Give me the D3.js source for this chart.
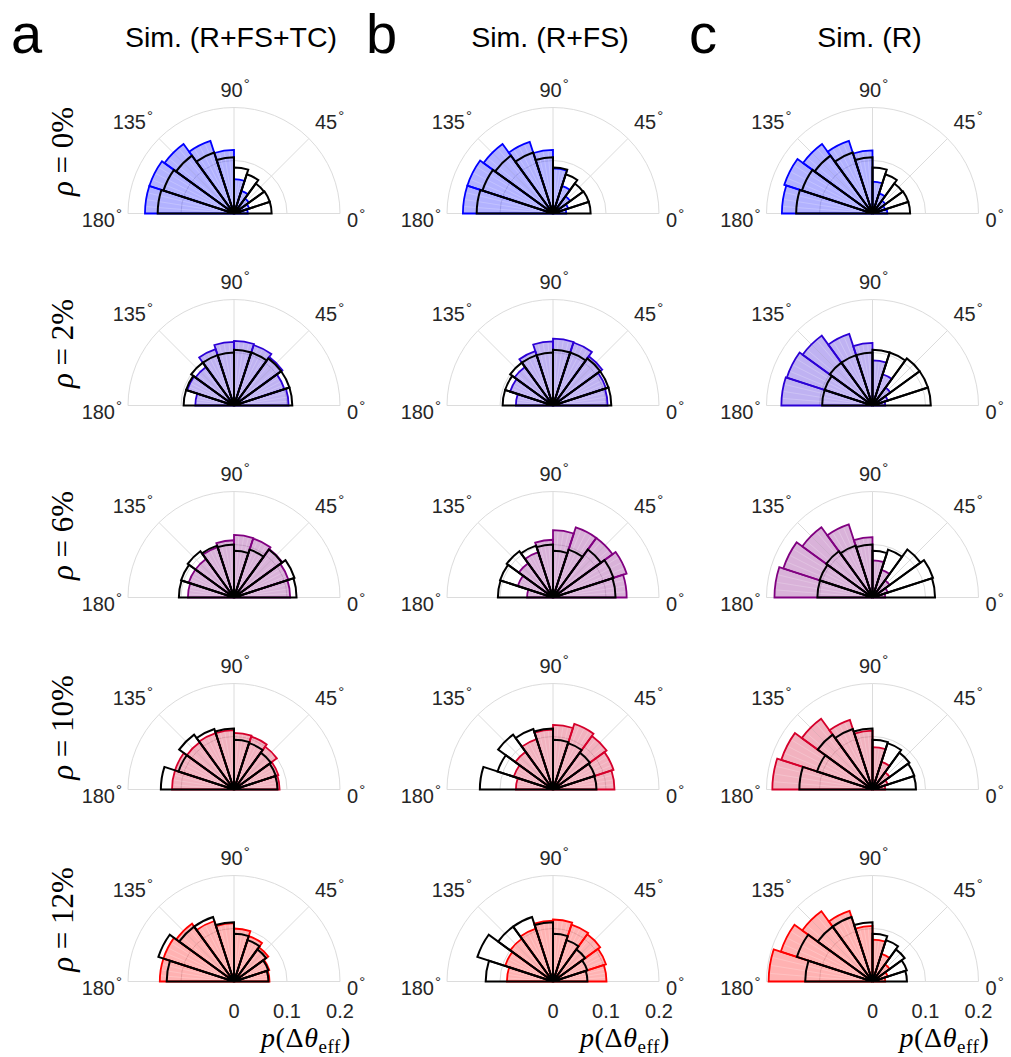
<!DOCTYPE html>
<html>
<head>
<meta charset="utf-8">
<script src="https://cdn.jsdelivr.net/npm/d3@7"></script>
<style>
  body { margin: 0; background: #ffffff; }
  svg { display: block; }
</style>
</head>
<body>
<svg id="chart" width="1011" height="1057"></svg>
<script>
// ---------------- data ----------------
const columnTitles = ["Sim. (R+FS+TC)", "Sim. (R+FS)", "Sim. (R)"];
const panelLetters = ["a", "b", "c"];
const rhoValues = [0, 2, 6, 10, 12];
const rhoLabels = ["0%", "2%", "6%", "10%", "12%"];
const binEdges = [0, 18, 36, 54, 72, 90, 108, 126, 144, 162, 180];
const angleTicks = [0, 45, 90, 135, 180];
const radialTicks = [0, 0.1, 0.2];
const radialTickLabels = ["0", "0.1", "0.2"];

// observed distribution (black outline), one per rho row, bins 0..180 in 18 deg steps
const observed = [
  [0.071, 0.071, 0.070, 0.078, 0.087, 0.106, 0.121, 0.135, 0.140, 0.144],
  [0.110, 0.110, 0.110, 0.105, 0.105, 0.100, 0.100, 0.100, 0.095, 0.095],
  [0.118, 0.120, 0.112, 0.095, 0.088, 0.100, 0.103, 0.108, 0.105, 0.104],
  [0.082, 0.083, 0.086, 0.092, 0.094, 0.115, 0.120, 0.128, 0.110, 0.138],
  [0.065, 0.068, 0.075, 0.082, 0.090, 0.112, 0.128, 0.128, 0.150, 0.127]
];
// simulation R+FS+TC
const simRFSTC = [
  [0.026, 0.030, 0.035, 0.045, 0.065, 0.120, 0.144, 0.162, 0.168, 0.168],
  [0.103, 0.100, 0.113, 0.120, 0.122, 0.120, 0.112, 0.090, 0.093, 0.073],
  [0.106, 0.108, 0.113, 0.117, 0.118, 0.108, 0.100, 0.090, 0.090, 0.087],
  [0.086, 0.088, 0.100, 0.105, 0.107, 0.112, 0.112, 0.110, 0.117, 0.117],
  [0.067, 0.070, 0.080, 0.090, 0.100, 0.110, 0.120, 0.135, 0.140, 0.140]
];
// simulation R+FS
const simRFS = [
  [0.025, 0.030, 0.040, 0.055, 0.085, 0.120, 0.142, 0.162, 0.170, 0.170],
  [0.103, 0.105, 0.115, 0.125, 0.126, 0.121, 0.108, 0.090, 0.085, 0.070],
  [0.139, 0.146, 0.139, 0.139, 0.127, 0.109, 0.090, 0.080, 0.070, 0.049],
  [0.116, 0.120, 0.125, 0.130, 0.122, 0.113, 0.100, 0.088, 0.078, 0.070],
  [0.101, 0.105, 0.110, 0.113, 0.117, 0.115, 0.105, 0.100, 0.095, 0.087]
];
// simulation R
const simR = [
  [0.028, 0.025, 0.030, 0.040, 0.060, 0.119, 0.144, 0.162, 0.175, 0.171],
  [0.024, 0.030, 0.042, 0.062, 0.085, 0.118, 0.142, 0.163, 0.170, 0.172],
  [0.024, 0.030, 0.040, 0.055, 0.070, 0.114, 0.145, 0.164, 0.177, 0.185],
  [0.024, 0.030, 0.040, 0.055, 0.080, 0.111, 0.138, 0.165, 0.181, 0.189],
  [0.024, 0.030, 0.040, 0.055, 0.079, 0.105, 0.140, 0.164, 0.182, 0.196]
];
const simulations = [simRFSTC, simRFS, simR];

// ---------------- layout ----------------
const svg = d3.select("#chart");
const W = 1011, H = 1057;
svg.append("rect").attr("width", W).attr("height", H).attr("fill", "#ffffff");

const R = 106;
const colX = [234, 553, 872.5];
const rowY = i => 213.5 + 192 * i;
const letterX = [11, 366, 689];
const gridColor = "#dcdcdc";
const tickColor = "#262626";
const sansFont = "'Liberation Sans', Arial, Helvetica, sans-serif";
const serifFont = "'Liberation Serif', 'Times New Roman', serif";

const r = d3.scaleLinear().domain([0, 0.2]).range([0, R]);
// polar angle (deg, 0 = right, counter-clockwise) -> d3.arc angle (0 = up, clockwise)
const ang = d3.scaleLinear().domain([0, 180]).range([Math.PI / 2, -Math.PI / 2]);
const rad = d => d * Math.PI / 180;
const wedge = d3.arc().innerRadius(0);
const rhoColor = d3.scaleLinear().domain([0, 12]).range(["#0000ff", "#ff0000"]).interpolate(d3.interpolateRgb);

function wedgePath(v, k) {
  return wedge({ outerRadius: r(v), startAngle: ang(binEdges[k + 1]), endAngle: ang(binEdges[k]) });
}

function degLabel(sel, txt) {
  sel.append("tspan").text(txt);
  sel.append("tspan").attr("font-size", 15).attr("dy", -8).attr("dx", 1).text("°");
}

simulations.forEach((sim, ci) => {
  const cx = colX[ci];
  // panel letter and title
  svg.append("text").attr("x", letterX[ci]).attr("y", 53)
    .style("font-family", sansFont).style("font-size", "56px").attr("fill", "#000")
    .text(panelLetters[ci]);
  svg.append("text").attr("x", cx - 3).attr("y", 47).attr("text-anchor", "middle")
    .style("font-family", sansFont).style("font-size", "28.5px").attr("fill", "#000")
    .text(columnTitles[ci]);

  rhoValues.forEach((rho, ri) => {
    const cy = rowY(ri);
    const g = svg.append("g").attr("transform", `translate(${cx},${cy})`);

    // grid arcs
    radialTicks.filter(v => v > 0).forEach(v => {
      const p = d3.path();
      p.arc(0, 0, r(v), Math.PI, 2 * Math.PI);
      g.append("path").attr("d", p.toString()).attr("fill", "none")
        .attr("stroke", gridColor).attr("stroke-width", 1);
    });
    // spokes
    angleTicks.filter(t => t > 0 && t < 180).forEach(t => {
      g.append("line").attr("x1", 0).attr("y1", 0)
        .attr("x2", R * Math.cos(rad(t))).attr("y2", -R * Math.sin(rad(t)))
        .attr("stroke", gridColor).attr("stroke-width", 1);
    });
    g.append("line").attr("x1", -R).attr("y1", 0).attr("x2", R).attr("y2", 0)
      .attr("stroke", gridColor).attr("stroke-width", 1);

    // simulated histogram
    const col = rhoColor(rho);
    const vals = sim[ri];
    g.append("g").selectAll("path").data(vals).join("path")
      .attr("d", (v, k) => wedgePath(v, k))
      .attr("fill", col).attr("fill-opacity", 0.3)
      .attr("stroke", "none");
    // faint rendering seams inside the filled faces
    const seams = [];
    vals.forEach((v, k) => {
      [0.25, 0.5, 0.75].forEach(f => {
        seams.push({ v, t: binEdges[k] + f * (binEdges[k + 1] - binEdges[k]) });
      });
    });
    g.append("g").selectAll("line").data(seams).join("line")
      .attr("x1", 0).attr("y1", 0)
      .attr("x2", d => (r(d.v) - 1.5) * Math.cos(rad(d.t)))
      .attr("y2", d => -(r(d.v) - 1.5) * Math.sin(rad(d.t)))
      .attr("stroke", "#ffffff").attr("stroke-opacity", 0.35).attr("stroke-width", 0.6);
    g.append("g").selectAll("path").data(vals).join("path")
      .attr("d", (v, k) => wedgePath(v, k))
      .attr("fill", "none")
      .attr("stroke", col).attr("stroke-width", 1.8).attr("stroke-linejoin", "miter");

    // observed histogram
    g.append("g").selectAll("path").data(observed[ri]).join("path")
      .attr("d", (v, k) => wedgePath(v, k))
      .attr("fill", "none")
      .attr("stroke", "#000").attr("stroke-width", 2).attr("stroke-linejoin", "miter");

    // angle tick labels
    const lab = (x, y, anchor) => g.append("text").attr("x", x).attr("y", y)
      .attr("text-anchor", anchor).attr("fill", tickColor)
      .style("font-family", sansFont).style("font-size", "20px");
    degLabel(lab(1, -117, "middle"), String(angleTicks[2]));
    degLabel(lab(-81, -85, "end"), String(angleTicks[3]));
    degLabel(lab(81, -85, "start"), String(angleTicks[1]));
    degLabel(lab(-112, 13, "end"), String(angleTicks[4]));
    degLabel(lab(113, 13, "start"), String(angleTicks[0]));

    // row labels
    if (ci === 0) {
      const t = svg.append("text")
        .attr("transform", `translate(73,${cy - 62}) rotate(-90)`)
        .attr("text-anchor", "middle").attr("fill", "#000")
        .style("font-family", serifFont).style("font-size", "31px");
      t.append("tspan").attr("font-style", "italic").text("ρ");
      t.append("tspan").text(" = " + rhoLabels[ri]);
    }

    // radial axis on bottom row
    if (ri === rhoValues.length - 1) {
      radialTicks.forEach((v, i) => {
        g.append("text").attr("x", r(v)).attr("y", 36).attr("text-anchor", "middle")
          .attr("fill", tickColor).style("font-family", sansFont).style("font-size", "20px")
          .text(radialTickLabels[i]);
      });
      const xl = g.append("text").attr("x", 72).attr("y", 65).attr("text-anchor", "middle")
        .attr("fill", "#000").style("font-family", serifFont).style("font-size", "28px")
        .style("letter-spacing", "0.6px");
      xl.append("tspan").attr("font-style", "italic").text("p");
      xl.append("tspan").text("(Δ");
      xl.append("tspan").attr("font-style", "italic").text("θ");
      xl.append("tspan").attr("font-size", "19px").attr("dy", 6).text("eff");
      xl.append("tspan").attr("dy", -6).text(")");
    }
  });
});
</script>
</body>
</html>
